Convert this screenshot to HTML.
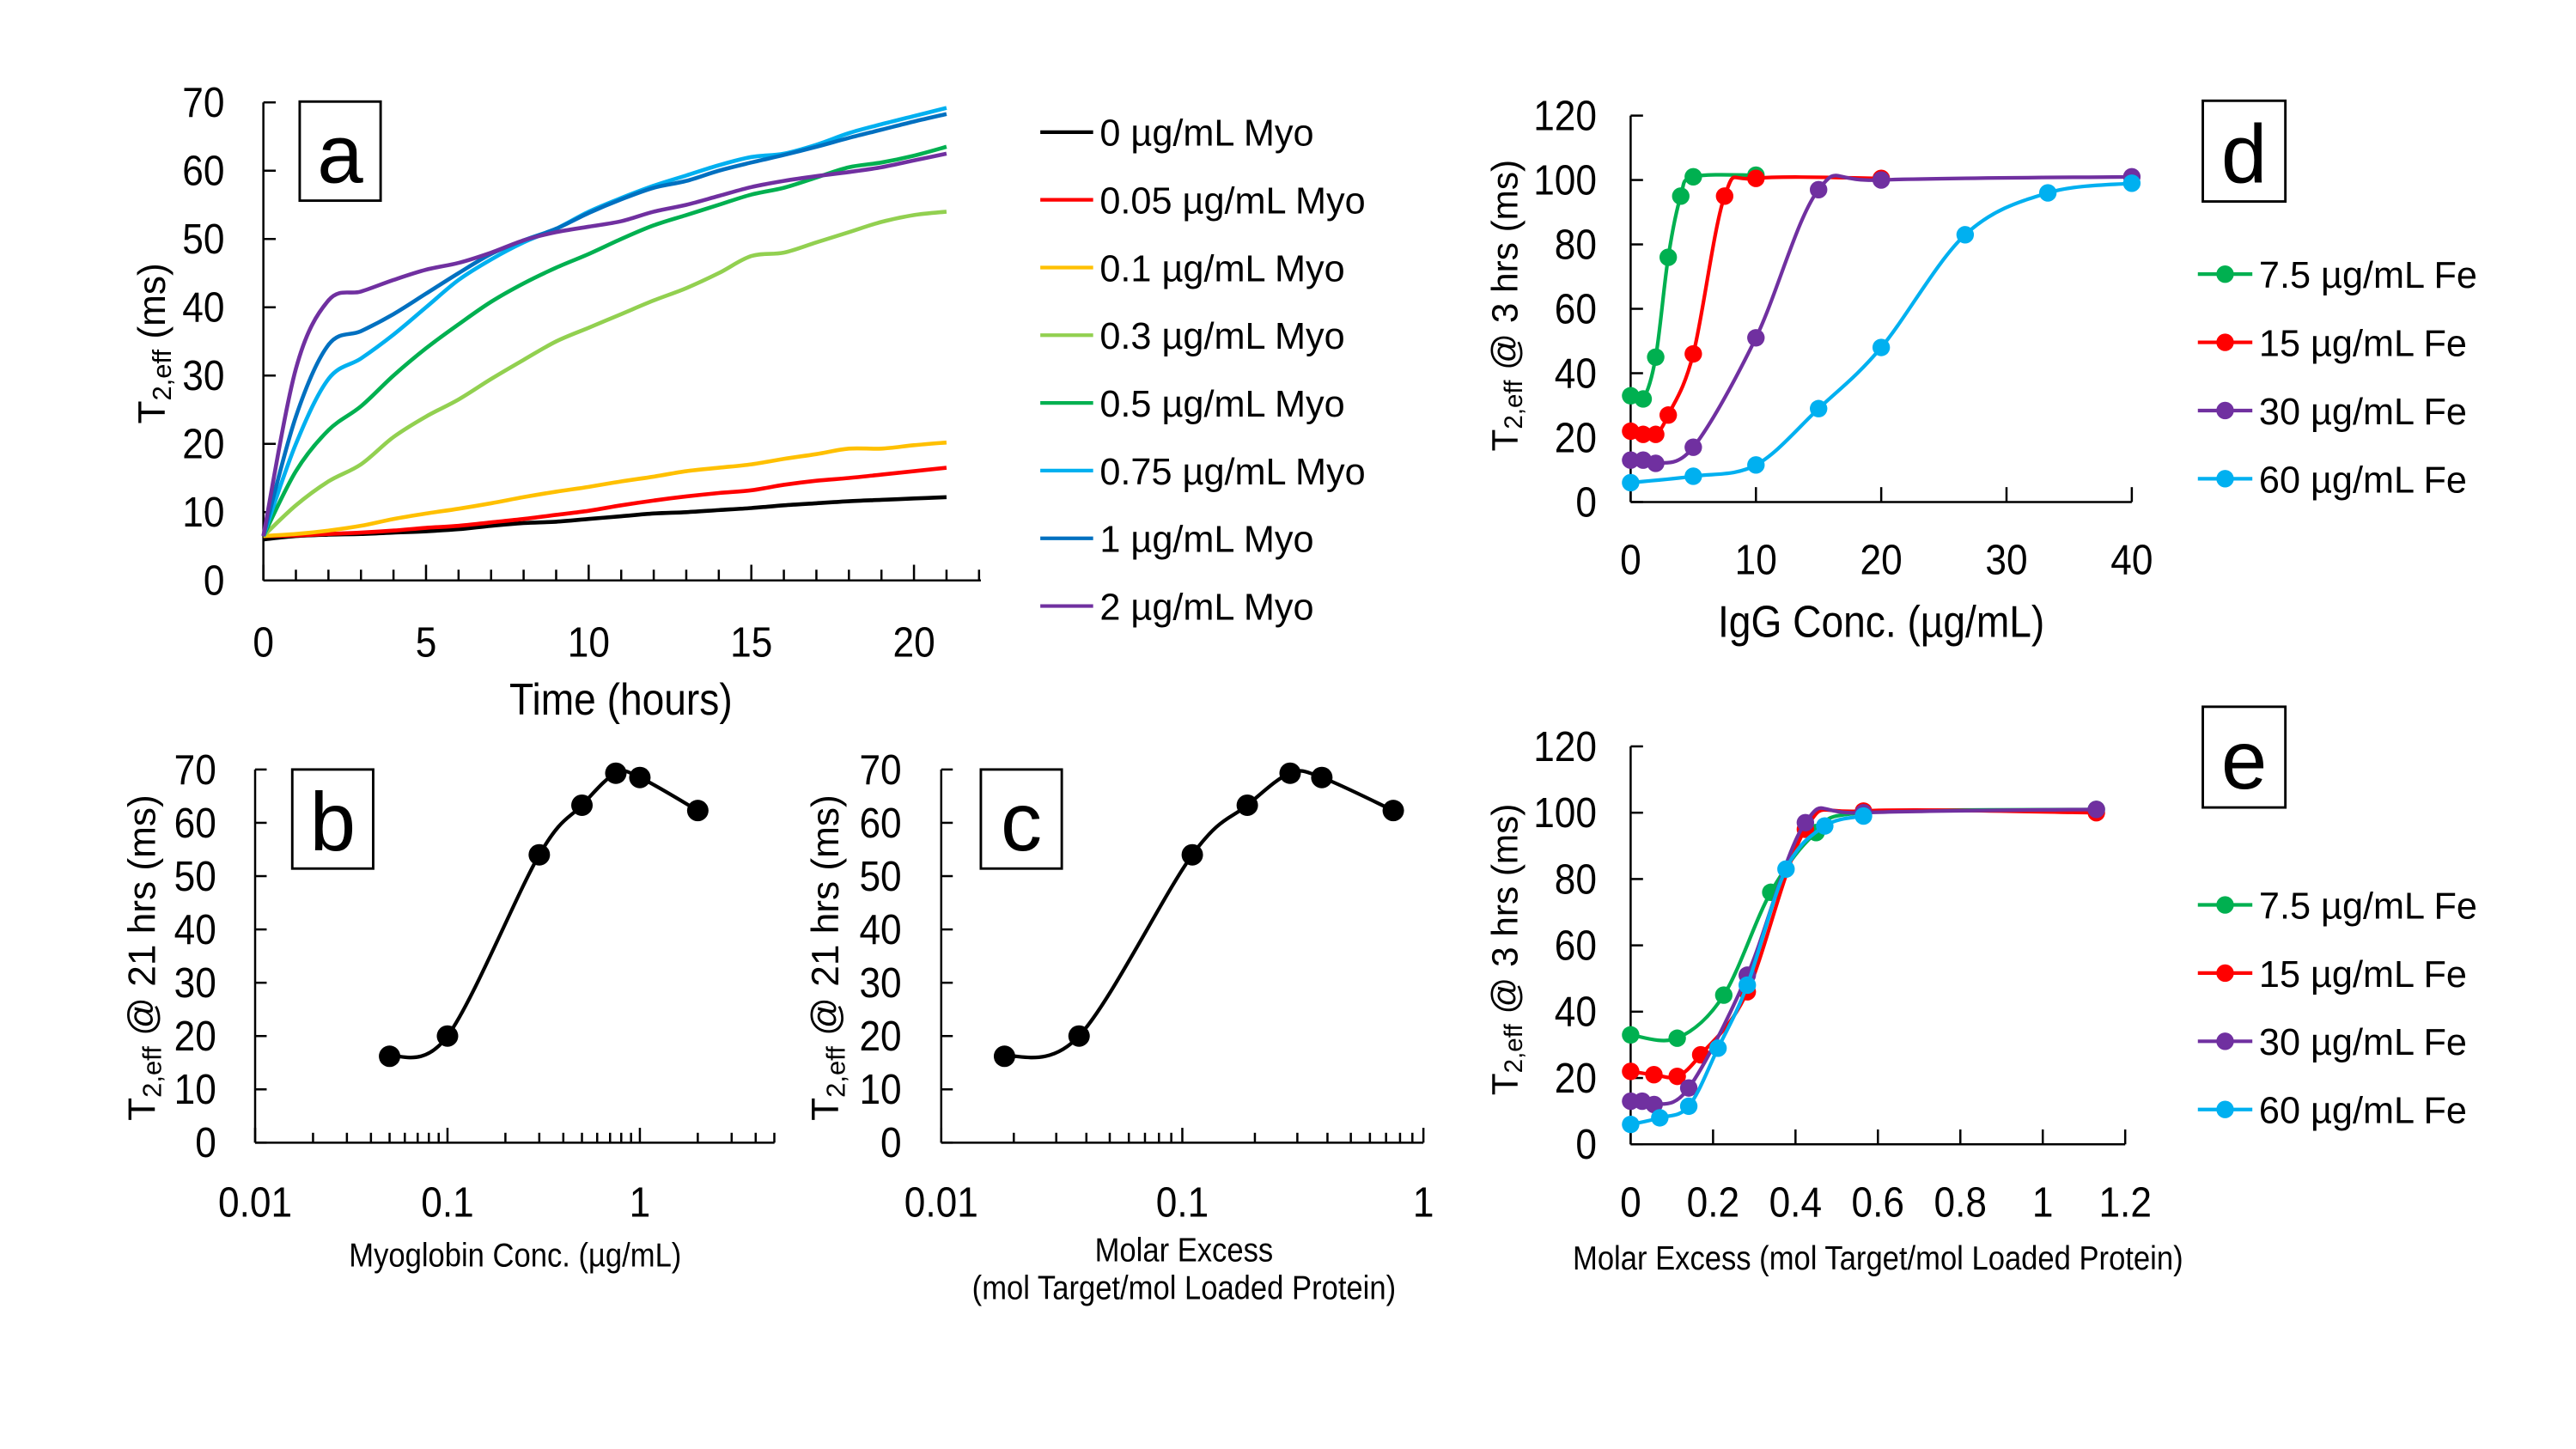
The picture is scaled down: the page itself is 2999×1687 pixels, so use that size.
<!DOCTYPE html>
<html><head><meta charset="utf-8"><style>
html,body{margin:0;padding:0;background:#fff;}
svg{display:block;}
text{font-family:"Liberation Sans Narrow","Liberation Sans",sans-serif;fill:#000;}
.leg{font-family:"Liberation Sans",sans-serif;}
</style></head><body>
<svg id="fig" width="2999" height="1687" viewBox="0 0 1560 877.5" xmlns="http://www.w3.org/2000/svg"></svg>
<script>
// ---------- Panel a data ----------
const timeHours=[0,1,2,3,4,5,6,7,8,9,10,11,12,13,14,15,16,17,18,19,20,21];
const seriesNamesA=['0 µg/mL Myo','0.05 µg/mL Myo','0.1 µg/mL Myo','0.3 µg/mL Myo','0.5 µg/mL Myo','0.75 µg/mL Myo','1 µg/mL Myo','2 µg/mL Myo'];
const myo0=[6,6.5,6.7,6.8,7,7.2,7.5,8,8.4,8.6,9,9.4,9.8,10,10.3,10.6,11,11.3,11.6,11.8,12,12.2];
const myo005=[6.5,6.6,6.8,7,7.3,7.7,8,8.5,9,9.6,10.2,11,11.7,12.3,12.8,13.2,14,14.6,15,15.5,16,16.5];
const myo01=[6.5,6.8,7.3,8,9,9.8,10.5,11.3,12.2,13,13.7,14.5,15.2,16,16.5,17,17.8,18.5,19.3,19.3,19.8,20.2];
const myo03=[6.5,11,14.5,17,21,24,26.5,29.5,32.3,35,37,39,41,42.8,45,47.5,48,49.5,51,52.5,53.5,54];
const myo05=[6.5,16,22,25.5,30,34,37.5,40.8,43.5,45.8,47.8,50,52,53.5,55,56.5,57.5,59,60.5,61.2,62.2,63.5];
const myo075=[6.5,20,29.5,32.5,36,40,44,47,49.5,51.5,54,56,57.8,59.3,60.8,62,62.5,63.8,65.5,66.8,68,69.2];
const myo1=[6.5,24,34.5,36.5,39,42,45,47.8,49.8,51.5,53.8,55.8,57.5,58.5,60,61.2,62.3,63.5,64.8,66,67.2,68.3];
const myo2=[6.5,31,41,42.3,44,45.5,46.5,48,49.8,51,51.8,52.6,54,55,56.3,57.6,58.5,59.2,59.8,60.5,61.5,62.5];
const yTicksA=[0,10,20,30,40,50,60,70];
const xTicksA=[0,5,10,15,20];
// ---------- Panel b/c data ----------
const myoConc=[0.05,0.1,0.3,0.5,0.75,1,2];
const molarExcessC=[0.0183,0.0373,0.11,0.186,0.28,0.379,0.75];
const t2at21=[16.2,20,54,63.3,69.3,68.5,62.3];
const yTicksBC=[0,10,20,30,40,50,60,70];
const logTickLabels=['0.01','0.1','1'];
// ---------- Panel d data ----------
const seriesNamesFe=['7.5 µg/mL Fe','15 µg/mL Fe','30 µg/mL Fe','60 µg/mL Fe'];
const igg75=[0,1,2,3,4,5,10];   const t2d75=[33,32,45,76,95,101,101.5];
const igg15=[0,1,2,3,5,7.5,10,20]; const t2d15=[22,21,21,27,46,95,100.5,100.5];
const igg30=[0,1,2,5,10,15,20,40]; const t2d30=[13,13,12,17,51,97,100,101];
const igg60=[0,5,10,15,20,26.7,33.3,40]; const t2d60=[6,8,11.5,29,48,83,96,99];
const yTicksDE=[0,20,40,60,80,100,120];
const xTicksD=[0,10,20,30,40];
// ---------- Panel e data ----------
const mol75=[0,0.113,0.226,0.34,0.45,0.565,1.13]; const t2e75=[33,32,45,76,94,100,101];
const mol15=[0,0.0565,0.113,0.17,0.283,0.424,0.565,1.13]; const t2e15=[22,21,20.5,27,46,95,100.5,100];
const mol30=[0,0.028,0.057,0.141,0.283,0.424,0.565,1.13]; const t2e30=[13,13,12,17,51,97,100,101];
const mol60=[0,0.0707,0.141,0.212,0.283,0.377,0.471,0.565]; const t2e60=[6,8,11.5,29,48,83,96,99];
const xTicksE=['0','0.2','0.4','0.6','0.8','1','1.2'];

const NS='http://www.w3.org/2000/svg';
const svg=document.getElementById('fig');
function mk(tag,parent){const e=document.createElementNS(NS,tag);parent.appendChild(e);return e;}
function line(p,x1,y1,x2,y2,w,c){const l=mk('line',p);l.setAttribute('x1',x1);l.setAttribute('y1',y1);l.setAttribute('x2',x2);l.setAttribute('y2',y2);l.setAttribute('stroke',c||'#000');l.setAttribute('stroke-width',w||1.3);return l;}
function txt(p,x,y,s,size,anchor,cls){const t=mk('text',p);t.setAttribute('font-size',size);t.setAttribute('text-anchor',anchor||'middle');t.setAttribute('dominant-baseline','central');
 if(cls){t.setAttribute('class',cls);t.setAttribute('x',x);t.setAttribute('y',y);}
 else{t.setAttribute('x',0);t.setAttribute('y',0);t.setAttribute('transform','translate('+x+','+y+') scale(1,1.12)');}
 t.textContent=s;return t;}
function smooth(pts){let d='M'+pts[0][0]+','+pts[0][1];for(let i=0;i<pts.length-1;i++){const p0=pts[Math.max(0,i-1)],p1=pts[i],p2=pts[i+1],p3=pts[Math.min(pts.length-1,i+2)];const c1x=p1[0]+(p2[0]-p0[0])/6,c1y=p1[1]+(p2[1]-p0[1])/6,c2x=p2[0]-(p3[0]-p1[0])/6,c2y=p2[1]-(p3[1]-p1[1])/6;d+=' C'+c1x+','+c1y+' '+c2x+','+c2y+' '+p2[0]+','+p2[1];}return d;}
function curve(p,pts,c,w){const e=mk('path',p);e.setAttribute('d',smooth(pts));e.setAttribute('fill','none');e.setAttribute('stroke',c);e.setAttribute('stroke-width',w);e.setAttribute('stroke-linejoin','round');return e;}
function dot(p,x,y,r,c){const e=mk('circle',p);e.setAttribute('cx',x);e.setAttribute('cy',y);e.setAttribute('r',r);e.setAttribute('fill',c);return e;}
function box(p,x1,y1,x2,y2,letter){const g=mk('g',p);const r=mk('rect',g);r.setAttribute('x',x1);r.setAttribute('y',y1);r.setAttribute('width',x2-x1);r.setAttribute('height',y2-y1);r.setAttribute('fill','#fff');r.setAttribute('stroke','#000');r.setAttribute('stroke-width',1.5);txt(g,(x1+x2)/2,(y1+y2)/2+2,letter,50,'middle','leg');return g;}
function ytitle(p,x,y,rest,size){const t=mk('text',p);t.setAttribute('transform','translate('+x+','+y+') rotate(-90)');t.setAttribute('font-size',size);t.setAttribute('text-anchor','middle');t.setAttribute('dominant-baseline','central');t.setAttribute('class','leg');
 const a=mk('tspan',t);a.textContent='T';const b=mk('tspan',t);b.setAttribute('font-size',size*0.7);b.setAttribute('dy',size*0.25);b.textContent='2,eff';const c=mk('tspan',t);c.setAttribute('dy',-size*0.25);c.textContent=rest;return t;}

const colsA=['#000000','#ff0000','#ffc000','#92d050','#00b050','#00b0f0','#0070c0','#7030a0'];
const colsFe=['#00b050','#ff0000','#7030a0','#00b0f0'];

// ===== Panel a =====
const gA=mk('g',svg);


const xA=t=>159.5+t*19.7, yA=v=>351.5-v*(289.5/70);
line(gA,159.5,62,159.5,351.5);line(gA,159.5,351.5,594,351.5);
yTicksA.forEach(v=>{line(gA,159.5,yA(v),167,yA(v));const t=txt(gA,136,yA(v),String(v),23,'end');});
for(let h=0;h<=22;h++){line(gA,xA(h),351.5,xA(h),h%5===0?342:345);}
xTicksA.forEach(v=>{const t=txt(gA,xA(v),389,String(v),23);});
const tA=txt(gA,376,424,'Time (hours)',24);


const ytA=ytitle(gA,92,208,' (ms)',23);


[myo0,myo005,myo01,myo03,myo05,myo075,myo1,myo2].forEach((arr,i)=>{
 const p=curve(gA,arr.map((v,j)=>[xA(timeHours[j]),yA(v)]),colsA[i],2.4);
 
 
});
const bA=box(gA,181.5,61.5,230.5,121.5,'a');


seriesNamesA.forEach((n,i)=>{const y=80+41*i;const g=mk('g',gA);
 
 
 line(g,630,y,662,y,2.2,colsA[i]);txt(g,666,y+1,n,22.5,'start','leg');});

// ===== Panel b & c =====
function logPanel(x0,dec,xEnd,xs,labelX,titleX,boxX,letter,name){
 const g=mk('g',svg);
 
 
 const X=v=>x0+(Math.log10(v)+2)*dec, Y=v=>692-v*(226/70);
 line(g,x0,466,x0,692);line(g,x0,692,xEnd,692);
 yTicksBC.forEach(v=>{line(g,x0,Y(v),x0+7,Y(v));const t=txt(g,labelX,Y(v),String(v),23,'end');});
 for(let d=0.01;d<5;d*=10){for(let k=1;k<10;k++){const v=d*k;const px=X(v);if(px>xEnd+0.5)break;line(g,px,692,px,k===1?683:686);}}
 logTickLabels.forEach((s,i)=>{const t=txt(g,X(parseFloat(s)),728,s,23);});
 const yt=ytitle(g,titleX,580,' @ 21 hrs (ms)',23);
 
 
 const pts=xs.map((v,j)=>[X(v),Y(t2at21[j])]);
 const p=curve(g,pts,'#000',2.2);
 
 
 pts.forEach(q=>{const c=dot(g,q[0],q[1],6.5,'#000');});
 const b=box(g,boxX,466,boxX+49,526,letter);
 
 
 return g;
}
const gB=logPanel(154.5,116.5,469,myoConc,131,86,177,'b','panel-b-chart');
const xtB=txt(gB,312,760,'Myoglobin Conc. (µg/mL)',18);


const gC=logPanel(570,146,862,molarExcessC,546,500,594,'c','panel-c-chart');
const xtC1=txt(gC,717,757,'Molar Excess',18);


const xtC2=txt(gC,717,780,'(mol Target/mol Loaded Protein)',18);



// ===== Panel d & e =====
function fePanel(name,y0,yTop,xMax,xEnd,xTickVals,xTickLbls,xsArr,ysArr,boxY,letter,legY,titleY,xTitle,xTitleY,xTitleSize){
 const g=mk('g',svg);
 
 
 const X=v=>987.5+v*(xEnd-987.5)/xMax, Y=v=>y0-v*(y0-yTop)/120;
 line(g,987.5,yTop,987.5,y0);line(g,987.5,y0,xEnd,y0);
 yTicksDE.forEach(v=>{line(g,987.5,Y(v),995,Y(v));const t=txt(g,967,Y(v),String(v),23,'end');});
 xTickVals.forEach((v,i)=>{line(g,X(v),y0,X(v),y0-9);const t=txt(g,X(v),y0+35,xTickLbls[i],23);});
 const xt=txt(g,(987.5+xEnd)/2,xTitleY,xTitle,xTitleSize,'middle');
 
 
 const yt=ytitle(g,911,titleY,'  @ 3 hrs (ms)',22);
 
 
 xsArr.forEach((xs,i)=>{const pts=xs.map((v,j)=>[X(v),Y(ysArr[i][j])]);
  const p=curve(g,pts,colsFe[i],2.2);
  
  
  pts.forEach(q=>{const c=dot(g,q[0],q[1],5.3,colsFe[i]);});});
 const b=box(g,1334,boxY,1384,boxY+61,letter);
 
 
 seriesNamesFe.forEach((n,i)=>{const y=legY+41.3*i;const lg=mk('g',g);
  
  
  line(lg,1331,y,1364,y,2.2,colsFe[i]);dot(lg,1347.5,y,5.3,colsFe[i]);txt(lg,1368,y+1,n,22.5,'start','leg');});
 return g;
}
fePanel('panel-d-chart',304,70,40,1291,[0,10,20,30,40],xTicksD.map(String),[igg75,igg15,igg30,igg60],[t2d75,t2d15,t2d30,t2d60],61,'d',166,185,'IgG Conc. (µg/mL)',377,24);
fePanel('panel-e-chart',693,452,1.2,1287,xTicksE.map(parseFloat),xTicksE,[mol75,mol15,mol30,mol60],[t2e75,t2e15,t2e30,t2e60],428,'e',548,575,'Molar Excess (mol Target/mol Loaded Protein)',762,18);
</script>
</body></html>
